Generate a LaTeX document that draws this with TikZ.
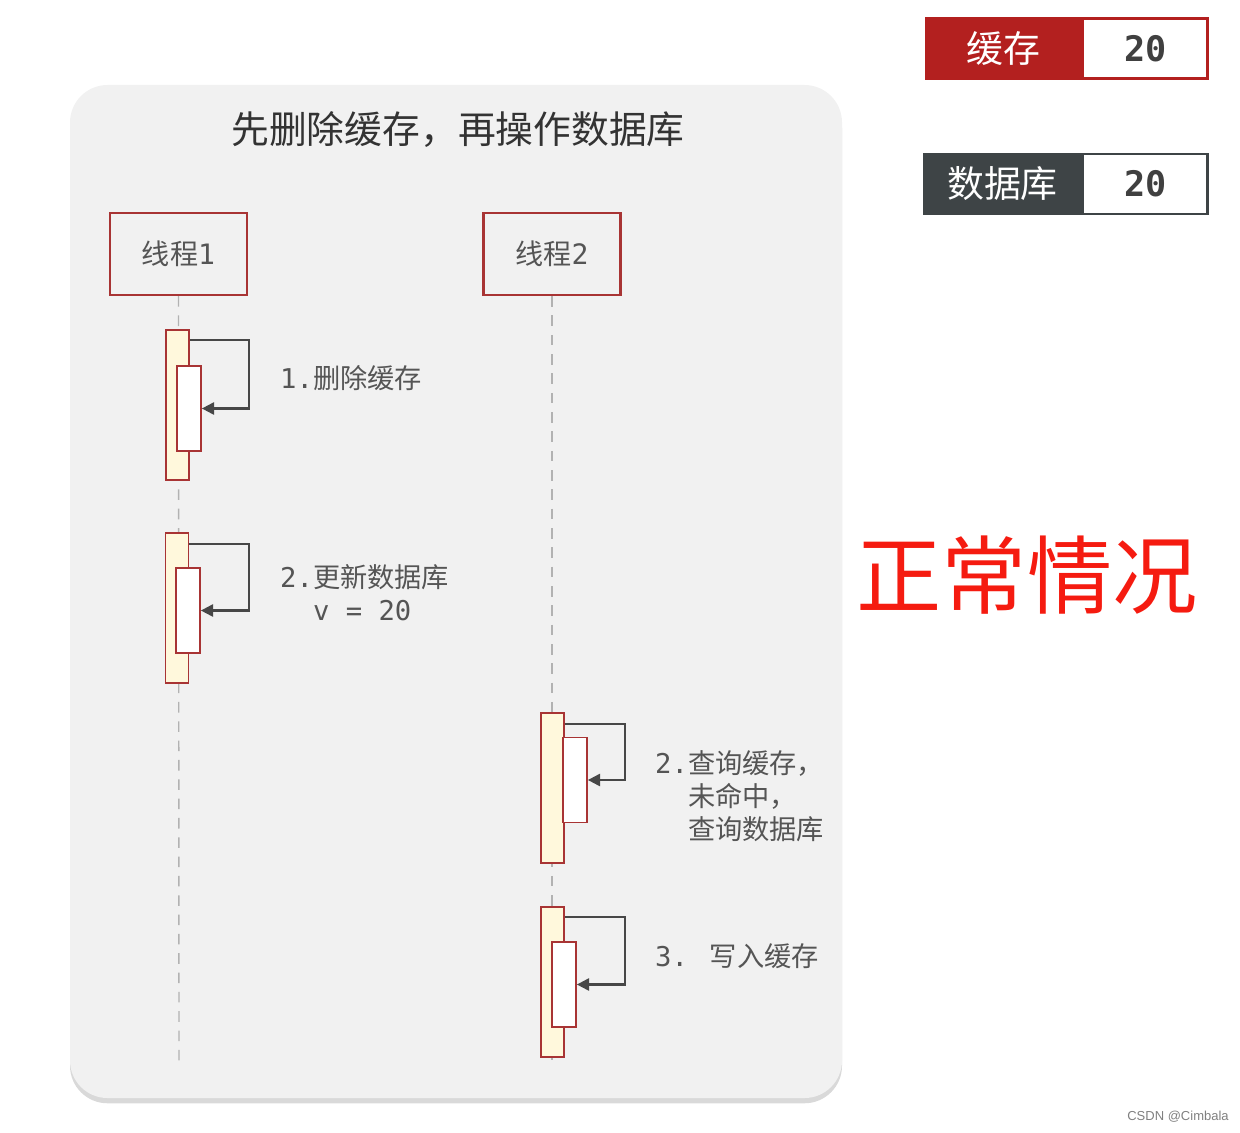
\documentclass[tikz,border=0pt]{standalone}
\usepackage{fontspec}
\setmainfont{Noto Sans CJK SC}
\newfontfamily\monofont{DejaVu Sans Mono}
\newfontfamily\latinfont{Liberation Sans}
\usetikzlibrary{positioning,arrows.meta,shadows}

\definecolor{panelgray}{HTML}{F1F1F1}
\definecolor{boxred}{HTML}{A83434}
\definecolor{actfill}{HTML}{FFF8DC}
\definecolor{cachered}{HTML}{B3201F}
\definecolor{dbgray}{HTML}{3E4446}
\definecolor{textgray}{HTML}{555555}
\definecolor{alertred}{HTML}{F51B10}

\begin{document}
\begin{tikzpicture}[
  x=0.02cm, y=-0.02cm,
  thread/.style={draw=boxred, line width=1.3pt, fill=panelgray,
                 minimum width=2.74cm, minimum height=1.64cm,
                 text=textgray, font=\fontsize{16}{19}\selectfont},
  actouter/.style={draw=boxred, line width=1pt, fill=actfill,
                   minimum width=0.46cm, minimum height=3.0cm, inner sep=0pt},
  actinner/.style={draw=boxred, line width=1pt, fill=white,
                   minimum width=0.48cm, minimum height=1.7cm, inner sep=0pt},
  lifeline/.style={draw=gray!60, line width=0.8pt, dash pattern=on 6pt off 5pt},
  msg/.style={draw=black!72, line width=1.2pt, -{Triangle[length=7pt,width=7pt]}},
  steplabel/.style={anchor=west, align=left, text=textgray,
                    font=\fontsize{15.5}{19}\selectfont},
  tag/.style={minimum height=1.26cm, inner sep=0pt,
              font=\fontsize{21}{24}\selectfont},
  value/.style={draw, fill=white, line width=1.5pt, minimum height=1.2cm,
                minimum width=2.5cm, inner sep=0pt,
                font=\monofont\bfseries\fontsize{20}{24}\selectfont, text=black!75},
]
\useasboundingbox (0,0) rectangle (1240,1132);

% panel
\fill[panelgray, rounded corners=0.75cm,
      drop shadow={opacity=0.3, shadow xshift=0pt, shadow yshift=-3pt}]
  (70,85) rectangle (842,1098);
\node[text=black!80, font=\fontsize{21.5}{24}\selectfont] (title) at (458,130)
  {先删除缓存，再操作数据库};

% threads and lifelines
\node[thread] (t1) at (178.5,254) {线程{\monofont 1}};
\node[thread] (t2) at (552,254) {线程{\monofont 2}};
\coordinate (end1) at (179,1062);
\coordinate (end2) at (552,1062);
\draw[lifeline] (t1.south) -- (end1);
\draw[lifeline] (t2.south) -- (end2);

% activations
\node[actouter] (a1) at (177.5,405) {};
\node[actinner] (b1) at (189,408.5) {};
\node[actouter] (a2) at (177,608) {};
\node[actinner] (b2) at (188,610.5) {};
\node[actouter] (a3) at (552.5,788) {};
\node[actinner] (b3) at (575,780) {};
\node[actouter] (a4) at (552.5,982) {};
\node[actinner] (b4) at (564,984.5) {};

\draw[msg] ([yshift=-0.22cm]a1.north east) -- ++(1.18cm,0) |- (b1.east);
\draw[msg] ([yshift=-0.24cm]a2.north east) -- ++(1.2cm,0) |- (b2.east);
\draw[msg] ([yshift=-0.24cm]a3.north east) -- ++(1.2cm,0) |- (b3.east);
\draw[msg] ([yshift=-0.22cm]a4.north east) -- ++(1.2cm,0) |- (b4.east);

\node[steplabel] (l1) at (274,378) {{\monofont 1.}删除缓存};
\node[steplabel, anchor=north west] (l2) at (274,558)
  {{\monofont 2.}更新数据库\\\phantom{\monofont 2.}{\monofont v = 20}};
\node[steplabel, anchor=north west] (l3) at (649,744)
  {{\monofont 2.}查询缓存，\\\phantom{\monofont 2.}未命中，\\\phantom{\monofont 2.}查询数据库};
\node[steplabel] (l4) at (649,956) {{\monofont 3. }写入缓存};

% legend
\node[tag, fill=cachered, minimum width=3.14cm, text=white] (cache) at (1003.5,48.5) {缓存};
\node[value, draw=cachered, right=-0.02cm of cache] (cacheval) {20};
\node[tag, fill=dbgray, minimum width=3.18cm, text=white] (db) at (1002.5,184) {数据库};
\node[value, draw=dbgray, right=-0.02cm of db] (dbval) {20};

\node[text=alertred, font=\fontsize{48.5}{52}\selectfont] (state) at (1027,575) {正常情况};

\node[text=gray, font=\latinfont\fontsize{7.4}{9}\selectfont] (mark) at (1178,1117) {CSDN @Cimbala};
\end{tikzpicture}
\end{document}
